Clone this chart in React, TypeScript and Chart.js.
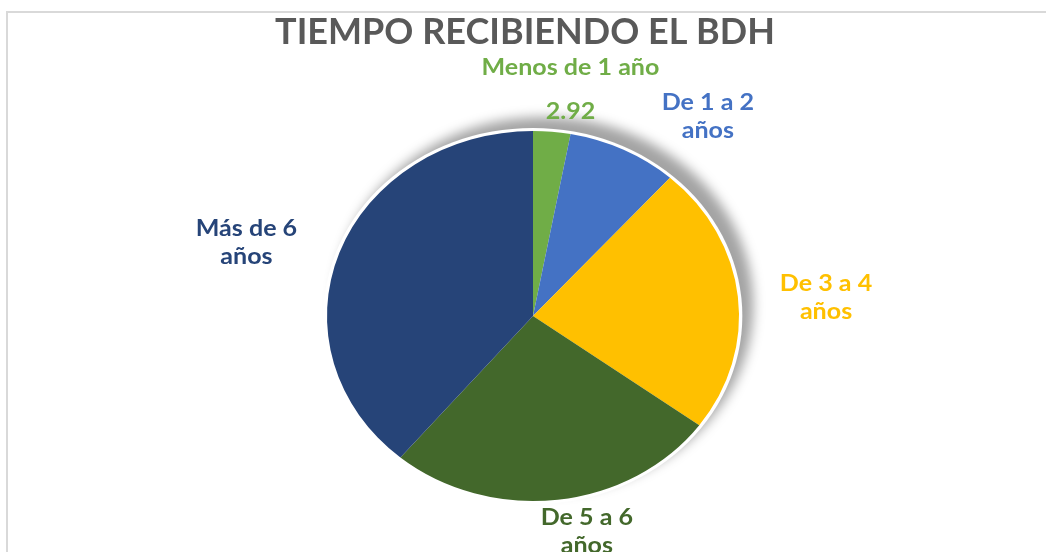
import React, { useEffect, useRef } from "react";
import { Chart, registerables } from "chart.js";

Chart.register(...registerables);

const title = "TIEMPO RECIBIENDO EL BDH";
const categories = ["Menos de 1 año", "De 1 a 2 años", "De 3 a 4 años", "De 5 a 6 años", "Más de 6 años"];
const values = [2.92, 8.66, 23.47, 26.08, 38.87];
const colors = ["#70AD47", "#4472C4", "#FFC000", "#43682B", "#264478"];
const labelLines = [
  ["Menos de 1 año", "2.92"],
  ["De 1 a 2", "años"],
  ["De 3 a 4", "años"],
  ["De 5 a 6", "años"],
  ["Más de 6", "años"],
];

const FONT = "Lato, 'Open Sans', sans-serif";
const STRETCH = 1.1135;

const stretchPlugin = {
  id: "pieStretch",
  beforeDatasetsDraw(chart: any) {
    const meta = chart.getDatasetMeta(0);
    const arc = meta.data[0];
    const ctx = chart.ctx;
    ctx.save();
    if (!arc) return;
    const { x, y, outerRadius } = arc.getProps(["x", "y", "outerRadius"], true);
    ctx.translate(x, 0);
    ctx.scale(STRETCH, 1);
    ctx.translate(-x, 0);
    ctx.save();
    ctx.shadowColor = "rgba(0,0,0,0.36)";
    ctx.shadowBlur = 12;
    ctx.shadowOffsetX = 11;
    ctx.shadowOffsetY = -11;
    ctx.fillStyle = "#ffffff";
    ctx.beginPath();
    ctx.arc(x, y, outerRadius + 3, 0, Math.PI * 2);
    ctx.fill();
    ctx.restore();
  },
  afterDatasetsDraw(chart: any) {
    chart.ctx.restore();
  },
};

const nudgeX = [10, 43, -5, 18, -5];
const nudgeY = [-5, 0, 5.5, -5, 3];
const lineGap = [44, 28, 28, 28, 28];

const textPlugin = {
  id: "pieText",
  afterDraw(chart: any) {
    const ctx = chart.ctx;
    ctx.save();
    ctx.textAlign = "center";
    ctx.textBaseline = "middle";
    ctx.fillStyle = "#595959";
    ctx.font = `bold 36px ${FONT}`;
    ctx.fillText(title, 525, 32);
    const meta = chart.getDatasetMeta(0);
    ctx.font = `bold 22.5px ${FONT}`;
    meta.data.forEach((arc: any, i: number) => {
      const { x, y, startAngle, endAngle, outerRadius } = arc.getProps(
        ["x", "y", "startAngle", "endAngle", "outerRadius"],
        true
      );
      const mid = (startAngle + endAngle) / 2;
      const cx = x + Math.cos(mid) * outerRadius * 1.62 + nudgeX[i];
      const cy = y + Math.sin(mid) * outerRadius * 1.2 + nudgeY[i];
      const lines = labelLines[i];
      const gap = lineGap[i];
      ctx.fillStyle = colors[i];
      lines.forEach((t, j) => {
        ctx.save();
        ctx.translate(cx, cy + (j - (lines.length - 1) / 2) * gap);
        ctx.scale(STRETCH, 1);
        ctx.fillText(t, 0, 0);
        ctx.restore();
      });
    });
    ctx.restore();
  },
};

export default function App() {
  const ref = useRef<HTMLCanvasElement | null>(null);
  useEffect(() => {
    if (!ref.current) return;
    const chart = new Chart(ref.current, {
      type: "pie",
      data: {
        labels: categories,
        datasets: [
          {
            data: values,
            backgroundColor: colors,
            borderWidth: 0,
            clip: false as any,
          },
        ],
      },
      options: {
        responsive: false,
        animation: false,
        layout: { padding: { left: 348, right: 328, top: 131, bottom: 51 } },
        plugins: {
          legend: { display: false },
          tooltip: { enabled: false },
          title: { display: false },
        },
      },
      plugins: [stretchPlugin, textPlugin],
    });
    return () => chart.destroy();
  }, []);
  return (
    <div style={{ position: "fixed", left: 0, top: 0, width: 1046, height: 552, overflow: "hidden", background: "#fff" }}>
      <div
        style={{
          position: "absolute",
          left: 6,
          top: 11,
          width: 1100,
          height: 600,
          border: "2px solid #D9D9D9",
          boxSizing: "border-box",
        }}
      />
      <canvas ref={ref} width={1046} height={552} style={{ position: "absolute", left: 0, top: 0 }} />
    </div>
  );
}
